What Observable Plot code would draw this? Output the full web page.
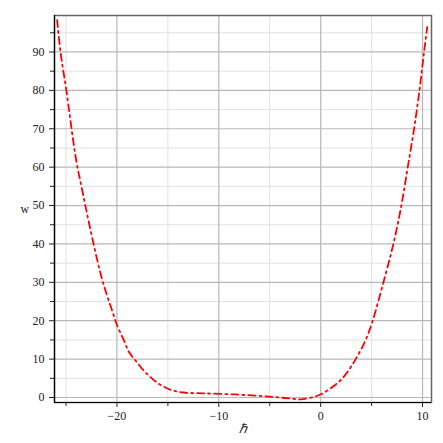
<!DOCTYPE html>
<html>
<head>
<meta charset="utf-8">
<script src="https://cdn.jsdelivr.net/npm/d3@7"></script>
<script src="https://cdn.jsdelivr.net/npm/@observablehq/plot@0.6"></script>
<style>
  html, body { margin: 0; padding: 0; background: #fff; }
</style>
</head>
<body>
<div id="chart"></div>
<script>
const kValues = [-25.87, -25.54, -24.98, -24.0, -23.4, -22.66, -21.6, -21.0, -20.53, -19.97, -19.3, -18.83, -18.17, -17.36, -16.6, -15.72, -14.64, -13.43, -11.6, -8.5, -5.2, -2.95, -2.0, -0.66, 0.07, 1.31, 2.13, 2.88, 3.44, 4.1, 4.59, 5.05, 6.16, 7.14, 7.92, 8.55, 9.17, 9.7, 10.15, 10.46];
const wValues = [98.3, 90.0, 80.2, 61.8, 53.9, 44.4, 32.2, 26.8, 23.1, 18.7, 14.8, 11.9, 9.6, 7.0, 5.06, 3.3, 1.93, 1.3, 1.1, 0.8, 0.26, -0.26, -0.5, 0.18, 0.9, 3.05, 5.0, 7.6, 10.0, 13.2, 16.1, 19.5, 30, 40, 50, 60, 70, 80, 90, 96.5];
const xMajorTicks = [-20, -10, 0, 10];
const xMinorTicks = [-25, -15, -5, 5];
const yMajorTicks = [0, 10, 20, 30, 40, 50, 60, 70, 80, 90];
const yMinorTicks = [5, 15, 25, 35, 45, 55, 65, 75, 85, 95];
const xLabel = "ℏ";
const yLabel = "w";

const data = kValues.map((k, i) => ({k, w: wValues[i]}));
const xDomain = [-26.13, 10.88];
const yDomain = [-1.3, 99.5];

const chart = Plot.plot({
  width: 443,
  height: 443,
  marginLeft: 54,
  marginRight: 12,
  marginTop: 15,
  marginBottom: 41,
  style: {fontFamily: "'Liberation Serif', serif", fontSize: "12px", background: "#fff", color: "#222"},
  x: {domain: xDomain},
  y: {domain: yDomain},
  marks: [
    Plot.ruleX(xMinorTicks, {stroke: "#e2e2e2", strokeWidth: 1}),
    Plot.ruleY(yMinorTicks, {stroke: "#e2e2e2", strokeWidth: 1}),
    Plot.ruleX(xMajorTicks, {stroke: "#b8b8b8", strokeWidth: 1.2}),
    Plot.ruleY(yMajorTicks, {stroke: "#b8b8b8", strokeWidth: 1.2}),
    Plot.frame({stroke: "#666", strokeWidth: 1.5}),
    Plot.ruleX([xDomain[0]], {stroke: "#000", strokeWidth: 1.2}),
    Plot.ruleY([yDomain[0]], {stroke: "#000", strokeWidth: 1.2}),
    Plot.axisX({ticks: xMajorTicks, tickSize: 5, tickPadding: 4, label: null, tickFormat: d => String(d).replace("-", "\u2212")}),
    Plot.axisX({ticks: xMinorTicks, tickSize: 4, text: null, label: null}),
    Plot.axisY({ticks: yMajorTicks, tickSize: 5, tickPadding: 5, label: null}),
    Plot.axisY({ticks: yMinorTicks, tickSize: 4, text: null, label: null}),
    Plot.line(data, {x: "k", y: "w", stroke: "#ff0000", strokeWidth: 1.8, strokeDasharray: "7,4,2,4", curve: "catmull-rom"}),
    Plot.text([yLabel], {frameAnchor: "left", dx: -34, text: d => d, fontSize: 12, fontFamily: "'Liberation Serif', serif"}),
    Plot.text([xLabel], {frameAnchor: "bottom", dy: 30, text: d => d, fontSize: 13, fontStyle: "italic", fontFamily: "'Liberation Serif', serif"})
  ]
});
document.getElementById("chart").appendChild(chart);
</script>
</body>
</html>
